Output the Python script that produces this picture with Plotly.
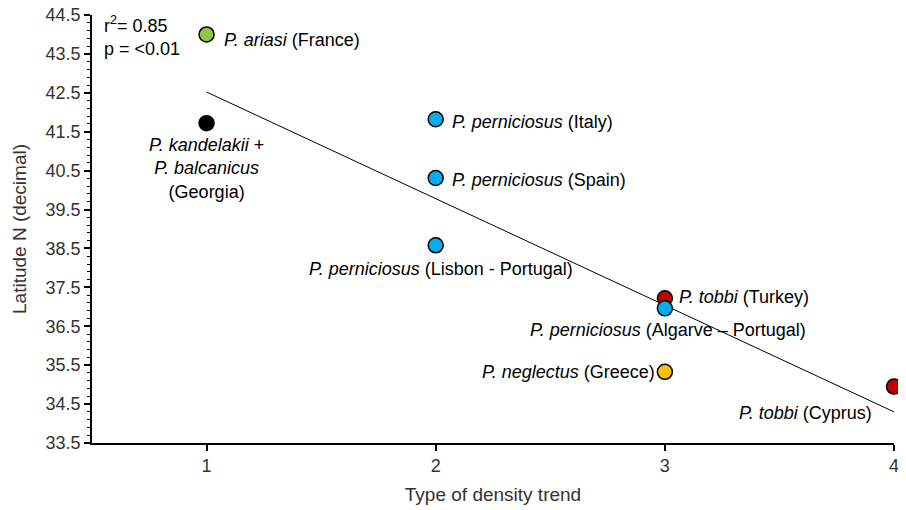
import plotly.graph_objects as go

# Data
density_trend = [1, 1, 2, 2, 2, 3, 3, 3, 4]
latitude = [44.0, 41.72, 41.82, 40.31, 38.58, 37.22, 36.96, 35.33, 34.95]
species = ["P. ariasi", "P. kandelakii + P. balcanicus", "P. perniciosus", "P. perniciosus",
           "P. perniciosus", "P. tobbi", "P. perniciosus", "P. neglectus", "P. tobbi"]
labels = [
    "<i>P. ariasi</i> (France)",
    "<i>P. kandelakii</i> +<br><i>P. balcanicus</i><br>(Georgia)",
    "<i>P. perniciosus</i> (Italy)",
    "<i>P. perniciosus</i> (Spain)",
    "<i>P. perniciosus</i> (Lisbon - Portugal)",
    "<i>P. tobbi</i> (Turkey)",
    "<i>P. perniciosus</i> (Algarve – Portugal)",
    "<i>P. neglectus</i> (Greece)",
    "<i>P. tobbi</i> (Cyprus)",
]
colors = ["#8DC63F", "#000000", "#00AEEF", "#00AEEF", "#00AEEF", "#C00000", "#00AEEF", "#FFC000", "#C00000"]

trend_x = [1, 4]
trend_y = [42.52, 34.3]

y_ticks = [33.5, 34.5, 35.5, 36.5, 37.5, 38.5, 39.5, 40.5, 41.5, 42.5, 43.5, 44.5]
x_ticks = [1, 2, 3, 4]

# label placement (pixel offsets from the marker)
label_pos = [
    dict(xanchor="left", xshift=15, yshift=-6),
    dict(xanchor="center", xshift=0, yshift=-45),
    dict(xanchor="left", xshift=14, yshift=-3),
    dict(xanchor="left", xshift=14, yshift=-2),
    dict(xanchor="center", xshift=5, yshift=-24),
    dict(xanchor="left", xshift=12, yshift=1),
    dict(xanchor="center", xshift=3, yshift=-22),
    dict(xanchor="right", xshift=-8, yshift=0),
    dict(xanchor="right", xshift=-20, yshift=-26),
]

FONT = "Arial, 'Liberation Sans', sans-serif"

fig = go.Figure()

fig.add_trace(go.Scatter(
    x=trend_x, y=trend_y, mode="lines",
    line=dict(color="#000000", width=1),
    hoverinfo="skip", showlegend=False,
))

fig.add_trace(go.Scatter(
    x=density_trend, y=latitude, mode="markers",
    marker=dict(size=15, color=colors, line=dict(color="#000000", width=1.5)),
    text=species, showlegend=False, cliponaxis=False,
))

annotations = []
for xv, yv, lab, pos in zip(density_trend, latitude, labels, label_pos):
    annotations.append(dict(
        x=xv, y=yv, xref="x", yref="y", text=lab, showarrow=False,
        font=dict(family=FONT, size=18, color="#000000"),
        align="center", yanchor="middle", **pos,
    ))

annotations.append(dict(
    x=0, y=1, xref="paper", yref="paper", xanchor="left", yanchor="top",
    xshift=10, yshift=4,
    text="r<sup>2</sup>= 0.85<br>p = &lt;0.01", showarrow=False, align="left",
    font=dict(family=FONT, size=18, color="#000000"),
))

# The page body adds an 8px offset; margins compensate so the plot area lands where the reference has it.
fig.update_layout(
    width=906, height=510,
    margin=dict(l=84, r=20, t=7, b=75, autoexpand=False),
    paper_bgcolor="white", plot_bgcolor="white",
    font=dict(family=FONT, size=18, color="#333333"),
    annotations=annotations,
    xaxis=dict(
        range=[0.5, 4.0], tickvals=x_ticks, ticktext=[str(v) for v in x_ticks],
        showgrid=False, zeroline=False, showline=True, linecolor="#000000", linewidth=1.5,
        ticks="outside", ticklen=6, tickwidth=1.5, tickcolor="#000000",
        tickfont=dict(family=FONT, size=18, color="#333333"),
        ticklabeloverflow="allow", automargin=False,
        title=dict(text="Type of density trend", font=dict(family=FONT, size=19, color="#333333"), standoff=12),
    ),
    yaxis=dict(
        range=[33.5, 44.5], tickvals=y_ticks, ticktext=[f"{v:.1f}" for v in y_ticks],
        showgrid=False, zeroline=False, showline=True, linecolor="#000000", linewidth=1.5,
        ticks="outside", ticklen=6, tickwidth=1.5, tickcolor="#000000",
        tickfont=dict(family=FONT, size=18, color="#333333"),
        minor=dict(dtick=0.2, tick0=33.5, ticks="outside", ticklen=3, tickwidth=1, tickcolor="#000000", showgrid=False),
        ticklabeloverflow="allow", automargin=False,
        title=dict(text="Latitude N (decimal)", font=dict(family=FONT, size=19, color="#333333"), standoff=14),
    ),
)

fig.write_html("out.html")
